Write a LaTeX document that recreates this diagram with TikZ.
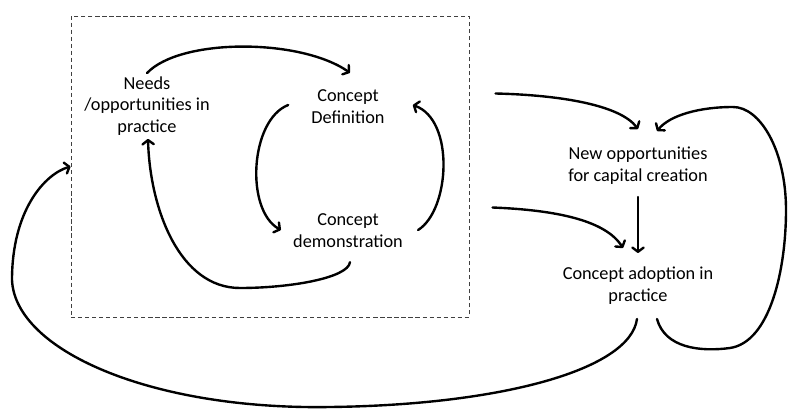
\documentclass[tikz,border=0pt]{standalone}
\usepackage{fontspec}
\setmainfont{Carlito}
\usetikzlibrary{arrows.meta}

\begin{document}
\begin{tikzpicture}[
  x=0.025cm, y=0.025cm,
  every node/.style={font=\fontsize{13}{15.5}\selectfont},
  phase/.style={align=center, inner sep=0pt, text=black},
  flow/.style={line width=1.7pt, line cap=round,
    -{Straight Barb[length=3pt,width=8pt,round]}},
  dashframe/.style={draw=black!75, line width=0.6pt,
    dash pattern=on 3pt off 2pt, inner sep=0pt,
    minimum width=9.95cm, minimum height=7.525cm}
]
  \useasboundingbox (0,0) rectangle (789,410);

  \node[dashframe] (box) at (270,243.5) {};

  \node[phase] (needs) at (147,304) {Needs\\/opportunities in\\practice};
  \node[phase] (def) at (348,303) {Concept\\Definition};
  \node[phase] (demo) at (348,179) {Concept\\demonstration};
  \node[phase] (newopp) at (638,244) {New opportunities\\for capital creation};
  \node[phase] (adopt) at (638,124) {Concept adoption in\\practice};

  % inner cycle
  \draw[flow] ([shift={(0,3)}]needs.north) .. controls (180,372) and (300,372) .. ([shift={(2,17)}]def.north);
  \draw[flow] ([shift={(-23,2)}]def.west) .. controls (250,290) and (245,200) .. ([shift={(-12,1)}]demo.west);
  \draw[flow] ([shift={(15,1)}]demo.east) .. controls (450,200) and (455,290) .. ([shift={(28,2)}]def.east);
  \draw[flow] ([shift={(2,-14)}]demo.south) .. controls (348,132) and (290,122) .. (240,122)
    .. controls (180,122) and (150,200) .. ([shift={(1,-3)}]needs.south);

  % outer loops
  \draw[flow] ([shift={(26,73)}]box.east) .. controls (560,315) and (620,305) .. ([shift={(0,18)}]newopp.north);
  \draw[flow] ([shift={(23,-41)}]box.east) .. controls (555,200) and (605,190) .. ([shift={(-15,19)}]adopt.north);
  \draw[flow] ([shift={(0,-12)}]newopp.south) -- ([shift={(0,14)}]adopt.north);
  \draw[flow] ([shift={(19,-14)}]adopt.south) .. controls (665,62) and (700,58) .. (730,62)
    .. controls (770,68) and (786,140) .. (786,200)
    .. controls (786,260) and (760,303) .. (733,303)
    .. controls (700,303) and (670,295) .. ([shift={(19,16)}]newopp.north);
  \draw[flow] ([shift={(-1,-14)}]adopt.south) .. controls (630,40) and (500,5) .. (330,3)
    .. controls (150,0) and (15,60) .. (12,130)
    .. controls (12,200) and (45,236) .. (box.west);
\end{tikzpicture}
\end{document}
